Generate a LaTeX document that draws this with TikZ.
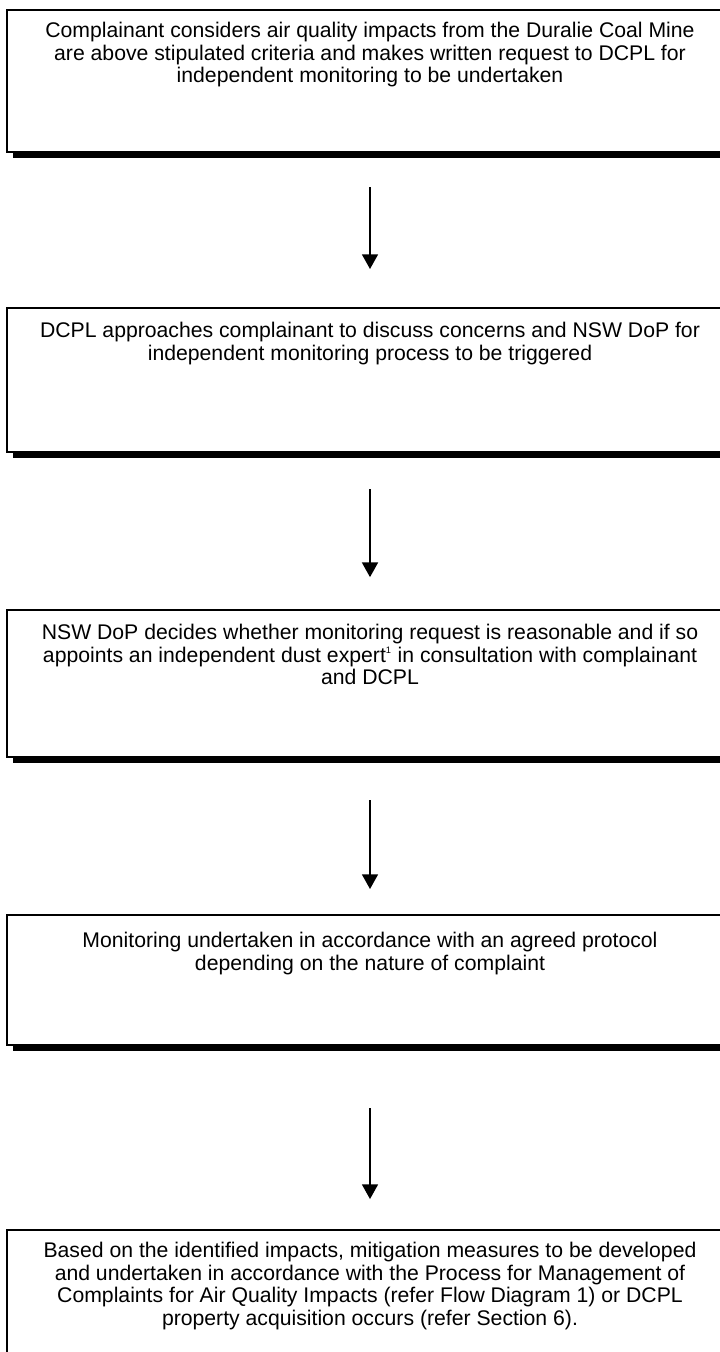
\documentclass[tikz,border=0pt]{standalone}
\usepackage{fontspec}
\setmainfont{Liberation Sans}
\usetikzlibrary{positioning,arrows.meta,shadows}

\begin{document}
\begin{tikzpicture}[box/.style={rectangle, draw, line width=1.5pt, fill=white, minimum width=544.5pt, drop shadow={shadow xshift=4.5pt, shadow yshift=-4.5pt, fill=black, opacity=1}}, boxtext/.style={align=center, inner sep=0pt, font=\fontsize{15.9pt}{16.9pt}\selectfont}, arrow/.style={-{Triangle[length=11pt,width=12pt]}, line width=1.1pt}]
  {
  \clip (0,0) rectangle (540pt,-1014pt);
  \node[box, minimum height=106.5pt] (ask) at (277.5pt,-60.75pt) {};
  \node[box, minimum height=108pt, below of=ask, node distance=224.25pt] (approach) {};
  \node[box, minimum height=110pt, below of=approach, node distance=227.6pt] (decide) {};
  \node[box, minimum height=97.5pt, below of=decide, node distance=222.4pt] (monitor) {};
  \node[box, minimum height=108.75pt, below of=monitor, node distance=241.9pt] (measures) {};

  \node[boxtext, below=9.75pt of ask.north] (askText) {Complainant considers air quality impacts from the Duralie Coal Mine\\ are above stipulated criteria and makes written request to DCPL for\\ independent monitoring to be undertaken};
  \node[boxtext, below=11.25pt of approach.north] (approachText) {DCPL approaches complainant to discuss concerns and NSW DoP for\\ independent monitoring process to be triggered};
  \node[boxtext, below=11.25pt of decide.north] (decideText) {NSW DoP decides whether monitoring request is reasonable and if so\\ appoints an independent dust expert\textsuperscript{\fontsize{7pt}{8pt}\selectfont 1} in consultation with complainant\\ and DCPL};
  \node[boxtext, below=13.5pt of monitor.north] (monitorText) {Monitoring undertaken in accordance with an agreed protocol\\ depending on the nature of complaint};
  \node[boxtext, below=9.75pt of measures.north] (measuresText) {Based on the identified impacts, mitigation measures to be developed\\ and undertaken in accordance with the Process for Management of\\ Complaints for Air Quality Impacts (refer Flow Diagram 1) or DCPL\\ property acquisition occurs (refer Section 6).};

  \draw[arrow, shorten <=25.5pt, shorten >=28.5pt] (ask) -- (approach);
  \draw[arrow, shorten <=27pt, shorten >=24pt] (approach) -- (decide);
  \draw[arrow, shorten <=32pt, shorten >=18.75pt] (decide) -- (monitor);
  \draw[arrow, shorten <=46.5pt, shorten >=22.5pt] (monitor) -- (measures);
  }
\end{tikzpicture}
\end{document}
